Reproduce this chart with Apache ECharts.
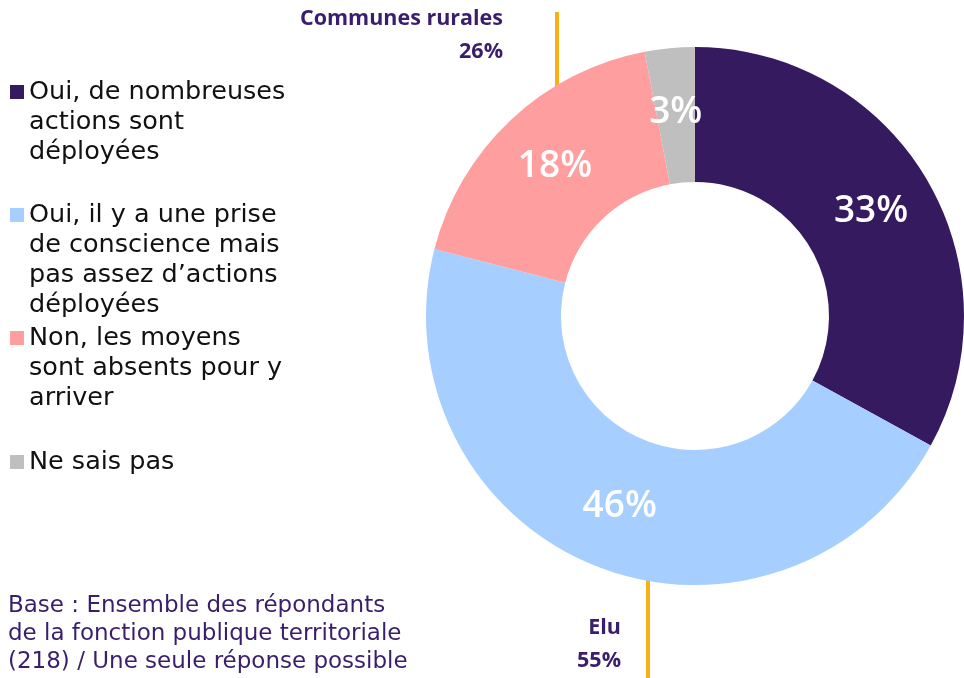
<!DOCTYPE html>
<html>
<head>
<meta charset="utf-8">
<script src="https://cdn.jsdelivr.net/npm/echarts@6/dist/echarts.min.js"></script>
<style>
  html, body { margin: 0; padding: 0; background: #fff; }
  #chart { width: 964px; height: 678px; }
</style>
</head>
<body>
<div id="chart"></div>
<script>
// données
const categories = [
  'Oui, de nombreuses actions sont déployées',
  'Oui, il y a une prise de conscience mais pas assez d’actions déployées',
  'Non, les moyens sont absents pour y arriver',
  'Ne sais pas'
];
const legendLines = [
  ['Oui, de nombreuses', 'actions sont', 'déployées'],
  ['Oui, il y a une prise', 'de conscience mais', 'pas assez d’actions', 'déployées'],
  ['Non, les moyens', 'sont absents pour y', 'arriver'],
  ['Ne sais pas']
];
const values = [33, 46, 18, 3];
const colors = ['#351A5F', '#A6CEFF', '#FF9E9E', '#BFBFBF'];
const noteLines = [
  'Base : Ensemble des répondants',
  'de la fonction publique territoriale',
  '(218) / Une seule réponse possible'
];
const benchmarks = [
  { name: 'Communes rurales', value: '26%' },
  { name: 'Elu', value: '55%' }
];

const purple = '#3A1E6C';
const orange = '#F7B116';
const lineH = 30;
const legendIconY = [92, 215, 338, 462];

var myChart = echarts.init(document.getElementById('chart'));

// une légende par élément : l'icône reste sur la première ligne
// (lignes vides ajoutées en haut pour que la ligne centrale soit la première)
const legends = categories.map((name, i) => {
  const n = legendLines[i].length;
  const pad = new Array(n - 1).fill(' ');
  return {
    orient: 'vertical',
    left: 10,
    top: legendIconY[i] - (2 * n - 1) * lineH / 2,
    padding: 0,
    data: [name],
    icon: 'rect',
    itemWidth: 14,
    itemHeight: 14,
    itemGap: 0,
    selectedMode: false,
    formatter: () => pad.concat(legendLines[i]).join('\n'),
    textStyle: {
      fontFamily: 'DejaVu Sans',
      fontSize: 25.5,
      color: '#111',
      lineHeight: lineH
    }
  };
});

myChart.setOption({
  animation: false,
  color: colors,
  legend: legends,
  series: [
    {
      type: 'pie',
      center: [695, 316],
      radius: [134, 269],
      startAngle: 90,
      clockwise: true,
      silent: true,
      label: {
        show: true,
        position: 'inside',
        formatter: '{c}%',
        color: '#fff',
        fontFamily: 'Open Sans',
        fontWeight: 600,
        fontSize: 37
      },
      labelLine: { show: false },
      data: categories.map((name, i) => ({ name: name, value: values[i] }))
    }
  ],
  graphic: [
    {
      type: 'text',
      left: 8,
      top: 592,
      style: {
        text: noteLines.join('\n'),
        fontFamily: 'DejaVu Sans',
        fontSize: 23,
        lineHeight: 28,
        fill: purple
      }
    },
    {
      type: 'text',
      x: 503,
      y: 2,
      style: {
        text: benchmarks[0].name + '\n' + benchmarks[0].value,
        align: 'right',
        fontFamily: 'Open Sans',
        fontWeight: 'bold',
        fontSize: 21.5,
        lineHeight: 33,
        fill: purple
      }
    },
    {
      type: 'line',
      shape: { x1: 557, y1: 12, x2: 557, y2: 113 },
      style: { stroke: orange, lineWidth: 4 }
    },
    {
      type: 'text',
      x: 621,
      y: 611,
      style: {
        text: benchmarks[1].name + '\n' + benchmarks[1].value,
        align: 'right',
        fontFamily: 'Open Sans',
        fontWeight: 'bold',
        fontSize: 21.5,
        lineHeight: 33,
        fill: purple
      }
    },
    {
      type: 'line',
      shape: { x1: 648, y1: 578, x2: 648, y2: 678 },
      style: { stroke: orange, lineWidth: 4 }
    }
  ]
});
</script>
</body>
</html>
